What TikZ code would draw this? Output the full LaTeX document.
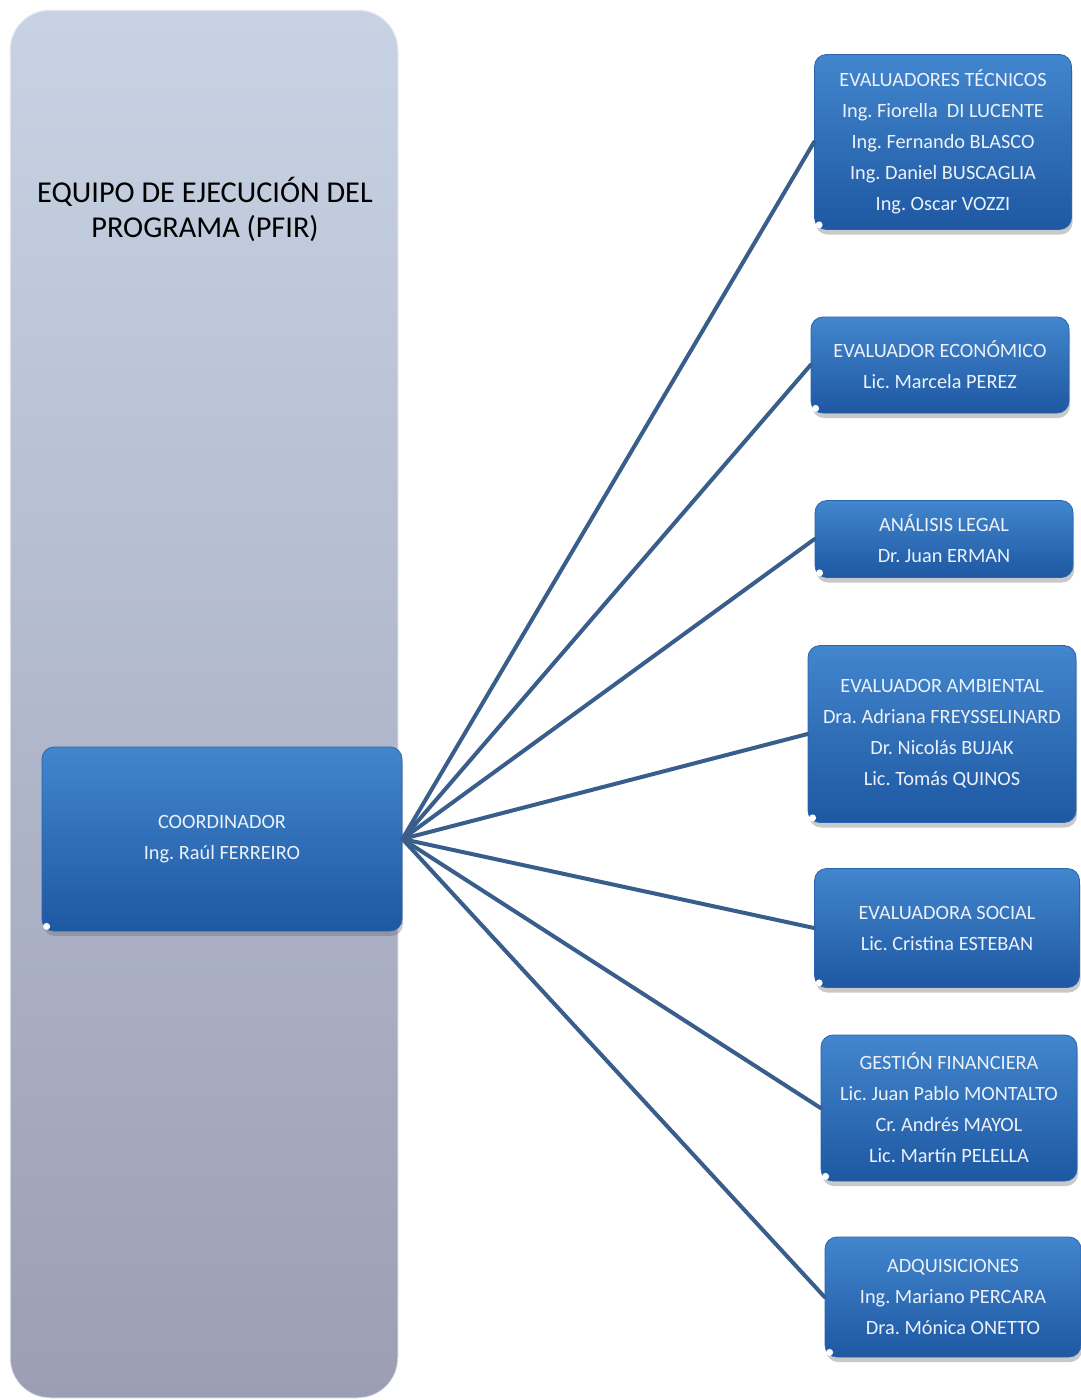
\documentclass[tikz,border=0pt]{standalone}
\usepackage{fontspec}
\setmainfont{Carlito}
\usetikzlibrary{shadows,calc}
\frenchspacing
\definecolor{panTop}{RGB}{199,211,228}
\definecolor{panBot}{RGB}{156,158,180}
\definecolor{bxTop}{RGB}{66,134,206}
\definecolor{bxBot}{RGB}{30,88,162}
\definecolor{bxEdge}{RGB}{40,100,175}
\definecolor{lnCol}{RGB}{58,94,140}
\definecolor{txCol}{RGB}{236,241,248}
\tikzset{
  bluebox/.style={rounded corners=12pt, top color=bxTop, bottom color=bxBot,
    draw=bxEdge, line width=0.8pt, inner sep=0pt, align=center, text=txCol,
    font=\fontsize{20.3}{31}\selectfont,
    drop shadow={shadow xshift=1pt, shadow yshift=-5pt, opacity=0.35, fill=black!60}},
  link/.style={draw=lnCol, line width=4pt, line cap=round},
  glare/.style={fill=white}
}
\newcommand{\bbox}[6]{%
  \node[bluebox, minimum width=#4pt, minimum height=#5pt] (#1) at (#2,#3) {#6};
  \fill[glare] ($(#1.south west)+(5,-5)$) circle (3.5);
}
\begin{document}
\begin{tikzpicture}[x=1pt,y=-1pt]
\useasboundingbox (0,0) rectangle (1081,1400);
\fill[white] (0,0) rectangle (1081,1400);
% panel
\node[rounded corners=40pt, top color=panTop, bottom color=panBot, draw=white!85!panBot,
  line width=1pt, minimum width=388pt, minimum height=1388pt, inner sep=0pt] (panel) at (204,704) {};
\node[font=\fontsize{30.3}{35}\selectfont, align=center, text=black] (title) at (205,209)
  {EQUIPO DE EJECUCIÓN DEL\\PROGRAMA (PFIR)};
% coordinator
\bbox{coord}{222}{839}{360}{184}{COORDINADOR\\Ing. Raúl FERREIRO}
% right boxes
\bbox{b1}{943}{142}{257}{175}{EVALUADORES TÉCNICOS\\Ing. Fiorella\ \ DI LUCENTE\\Ing. Fernando BLASCO\\Ing. Daniel BUSCAGLIA\\Ing. Oscar VOZZI}
\bbox{b2}{940}{365}{258}{96}{EVALUADOR ECONÓMICO\\Lic. Marcela PEREZ}
\bbox{b3}{944}{539}{258}{77}{ANÁLISIS LEGAL\\Dr. Juan ERMAN}
\bbox{b4}{942}{734}{268}{177}{EVALUADOR AMBIENTAL\\Dra. Adriana FREYSSELINARD\\Dr. Nicolás BUJAK\\Lic. Tomás QUINOS}
\bbox{b5}{947}{928}{265}{119}{EVALUADORA SOCIAL\\Lic. Cristina ESTEBAN}
\bbox{b6}{949}{1108}{256}{146}{GESTIÓN FINANCIERA\\Lic. Juan Pablo MONTALTO\\Cr. Andrés MAYOL\\Lic. Martín PELELLA}
\bbox{b7}{953}{1297}{256}{120}{ADQUISICIONES\\Ing. Mariano PERCARA\\Dra. Mónica ONETTO}
% links
\foreach \b in {b1,b2,b3,b4,b5,b6,b7}{
  \draw[link] (coord.east) -- (\b.west);
}
\end{tikzpicture}
\end{document}
